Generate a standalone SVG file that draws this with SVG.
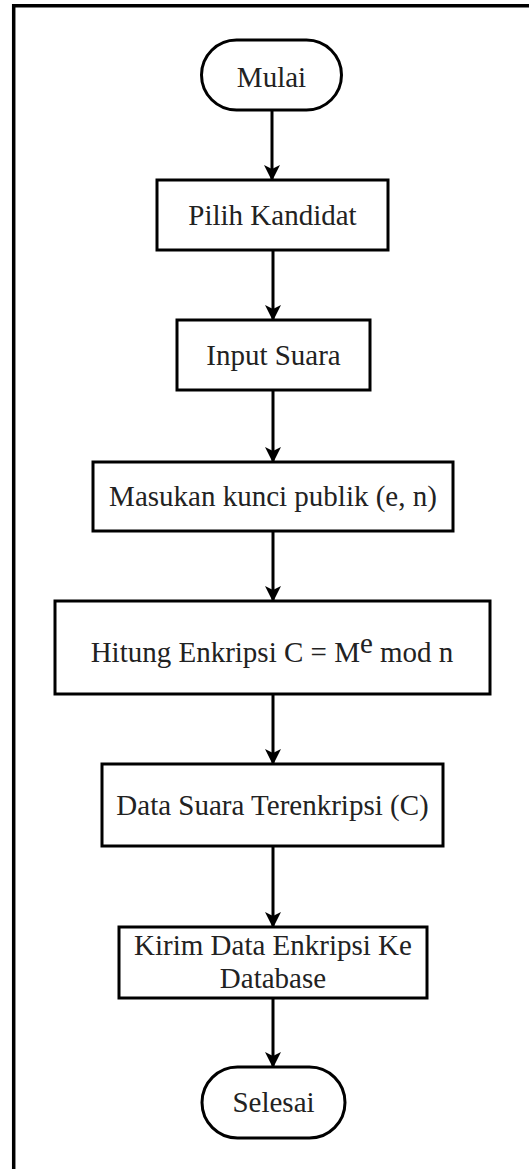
<svg xmlns="http://www.w3.org/2000/svg" width="529" height="1169" viewBox="0 0 529 1169">
  <style>
    .shape { fill: #ffffff; stroke: #000000; stroke-width: 3; }
    .label { font-family: "Liberation Serif", "Times New Roman", serif; font-size: 29px; fill: #222222; text-anchor: middle; }
    .flow { stroke: #000000; stroke-width: 3; fill: none; marker-end: url(#arrow); }
    .frame { stroke: #000000; stroke-width: 3.5; fill: none; }
  </style>
  <defs>
    <marker id="arrow" markerWidth="16" markerHeight="16" refX="14" refY="8" orient="auto" markerUnits="userSpaceOnUse">
      <path d="M0,0 L16,8 L0,16 L4,8 Z" fill="#000000"/>
    </marker>
  </defs>

  <rect width="529" height="1169" fill="#ffffff"/>

  <!-- page frame: left and top border -->
  <path class="frame" d="M13.7,1175 L13.7,5.7 L535,5.7"/>

  <!-- connectors -->
  <g id="connectors">
    <line class="flow" x1="272" y1="110" x2="272" y2="179"/>
    <line class="flow" x1="273" y1="250" x2="273" y2="319"/>
    <line class="flow" x1="273" y1="390" x2="273" y2="461"/>
    <line class="flow" x1="273" y1="531" x2="273" y2="600"/>
    <line class="flow" x1="273" y1="694" x2="273" y2="763"/>
    <line class="flow" x1="273" y1="846" x2="273" y2="926"/>
    <line class="flow" x1="273" y1="998" x2="273" y2="1066"/>
  </g>

  <g id="mulai">
    <rect class="shape" x="201.5" y="40" width="140" height="70" rx="35" ry="35"/>
    <text class="label" x="271.5" y="87">Mulai</text>
  </g>

  <g id="pilih-kandidat">
    <rect class="shape" x="157" y="180" width="231" height="70"/>
    <text class="label" x="272.5" y="225">Pilih Kandidat</text>
  </g>

  <g id="input-suara">
    <rect class="shape" x="177" y="320" width="193" height="70"/>
    <text class="label" x="273.5" y="365">Input Suara</text>
  </g>

  <g id="kunci-publik">
    <rect class="shape" x="93" y="462" width="360" height="69"/>
    <text class="label" x="273" y="506">Masukan kunci publik (e, n)</text>
  </g>

  <g id="hitung-enkripsi">
    <rect class="shape" x="55" y="601" width="435" height="93"/>
    <text class="label" x="272" y="662">Hitung Enkripsi C = M<tspan dy="-9">e</tspan><tspan dy="9"> mod n</tspan></text>
  </g>

  <g id="data-terenkripsi">
    <rect class="shape" x="102" y="764" width="341" height="82"/>
    <text class="label" x="272.5" y="815">Data Suara Terenkripsi (C)</text>
  </g>

  <g id="kirim-database">
    <rect class="shape" x="119" y="927" width="308" height="71"/>
    <text class="label" x="273" y="955">Kirim Data Enkripsi Ke</text>
    <text class="label" x="273" y="988">Database</text>
  </g>

  <g id="selesai">
    <rect class="shape" x="202" y="1067" width="143" height="71" rx="35.5" ry="35.5"/>
    <text class="label" x="273.5" y="1112">Selesai</text>
  </g>
</svg>
